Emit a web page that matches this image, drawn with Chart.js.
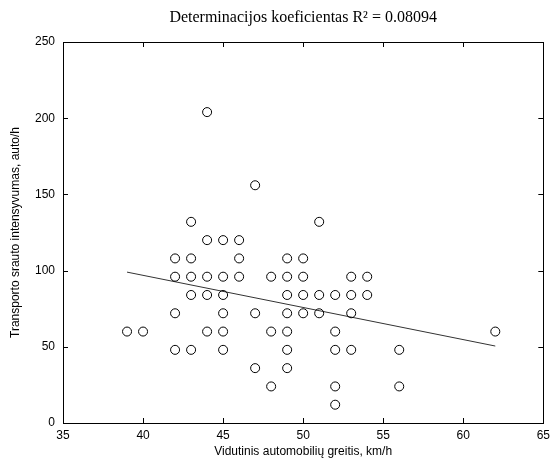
<!DOCTYPE html>
<html>
<head>
<meta charset="utf-8">
<script src="https://cdn.jsdelivr.net/npm/chart.js@4/dist/chart.umd.min.js"></script>
<style>
html,body{margin:0;padding:0;background:#fff;}
canvas{display:block;}
</style>
</head>
<body>
<canvas id="c" width="555" height="463"></canvas>
<script>
// Observed data: average speed (km/h) vs traffic flow intensity (auto/h)
const speedX = [
  39, 40, 42, 42, 42, 42, 43, 43, 43, 43, 43, 44, 44, 44, 44, 44,
  45, 45, 45, 45, 45, 45, 46, 46, 46, 47, 47, 47, 48, 48, 48,
  49, 49, 49, 49, 49, 49, 49, 50, 50, 50, 50, 51, 51, 51,
  52, 52, 52, 52, 52, 53, 53, 53, 53, 54, 54, 56, 56, 62
];
const flowY = [
  60, 60, 108, 96, 72, 48, 132, 108, 96, 84, 48, 204, 120, 96, 84, 60,
  120, 96, 84, 72, 60, 48, 120, 108, 96, 156, 72, 36, 96, 60, 24,
  108, 96, 84, 72, 60, 48, 36, 108, 96, 84, 72, 132, 84, 72,
  84, 60, 48, 24, 12, 96, 84, 72, 48, 96, 84, 48, 24, 60
];
// Regression line endpoints
const fitX = [39, 62];
const fitY = [99, 50.5];
const xTicks = [35, 40, 45, 50, 55, 60, 65];
const yTicks = [0, 50, 100, 150, 200, 250];
const titleText = 'Determinacijos koeficientas R\u00B2 = 0.08094';
const xTitle = 'Vidutinis automobilių greitis, km/h';
const yTitle = 'Transporto srauto intensyvumas, auto/h';

const points = speedX.map((x, i) => ({x: x, y: flowY[i]}));
const fitLine = fitX.map((x, i) => ({x: x, y: fitY[i]}));

const boxPlugin = {
  id: 'matlabBox',
  afterDraw(chart) {
    const ctx = chart.ctx, a = chart.chartArea;
    const xs = chart.scales.x, ys = chart.scales.y;
    ctx.save();
    ctx.strokeStyle = '#000';
    ctx.lineWidth = 1;
    ctx.beginPath();
    const L = 5;
    xs.ticks.forEach(t => {
      const px = Math.round(xs.getPixelForValue(t.value)) + 0.5;
      ctx.moveTo(px, a.bottom); ctx.lineTo(px, a.bottom - L);
      ctx.moveTo(px, a.top); ctx.lineTo(px, a.top + L);
    });
    ys.ticks.forEach(t => {
      const py = Math.round(ys.getPixelForValue(t.value)) + 0.5;
      ctx.moveTo(a.left, py); ctx.lineTo(a.left + L, py);
      ctx.moveTo(a.right, py); ctx.lineTo(a.right - L, py);
    });
    ctx.stroke();
    ctx.strokeRect(Math.round(a.left) + 0.5, Math.round(a.top) + 0.5,
                   Math.round(a.right - a.left), Math.round(a.bottom - a.top));
    ctx.restore();
  }
};

new Chart(document.getElementById('c'), {
  type: 'scatter',
  data: {
    datasets: [
      {
        label: 'Duomenys',
        data: points,
        showLine: false,
        pointStyle: 'circle',
        pointRadius: 4.5,
        pointBorderWidth: 1,
        pointBorderColor: '#000',
        pointBackgroundColor: 'rgba(255,255,255,0)'
      },
      {
        label: 'Regresija',
        data: fitLine,
        showLine: true,
        pointRadius: 0,
        borderColor: '#333',
        borderWidth: 1
      }
    ]
  },
  options: {
    responsive: false,
    animation: false,
    layout: { padding: { top: 0, right: 9, bottom: 0, left: 0 } },
    plugins: {
      legend: { display: false },
      tooltip: { enabled: false },
      title: {
        display: true,
        fullSize: false,
        text: titleText,
        color: '#000',
        font: { family: 'Liberation Serif', size: 16, weight: 'normal', lineHeight: 1.2 },
        padding: { top: 8, bottom: 14.8 }
      }
    },
    scales: {
      x: {
        type: 'linear',
        min: 35, max: 65,
        afterBuildTicks: s => { s.ticks = xTicks.map(v => ({value: v})); },
        afterFit: s => { s.height = 40; },
        grid: { display: false, drawTicks: false },
        border: { display: false },
        ticks: { color: '#000', padding: 5, font: { family: 'Liberation Sans', size: 12 } },
        title: {
          display: true, text: xTitle, color: '#000',
          font: { family: 'Liberation Sans', size: 12, lineHeight: 1.2 },
          padding: { top: 0, bottom: 4 }
        }
      },
      y: {
        type: 'linear',
        min: 0, max: 250,
        afterBuildTicks: s => { s.ticks = yTicks.map(v => ({value: v})); },
        afterFit: s => { s.width = 63; },
        grid: { display: false, drawTicks: false },
        border: { display: false },
        ticks: { color: '#000', padding: 8, font: { family: 'Liberation Sans', size: 12 } },
        title: {
          display: true, text: yTitle, color: '#000',
          font: { family: 'Liberation Sans', size: 12, lineHeight: 1.2 },
          padding: { top: 8, bottom: 0 }
        }
      }
    }
  },
  plugins: [boxPlugin]
});
</script>
</body>
</html>
